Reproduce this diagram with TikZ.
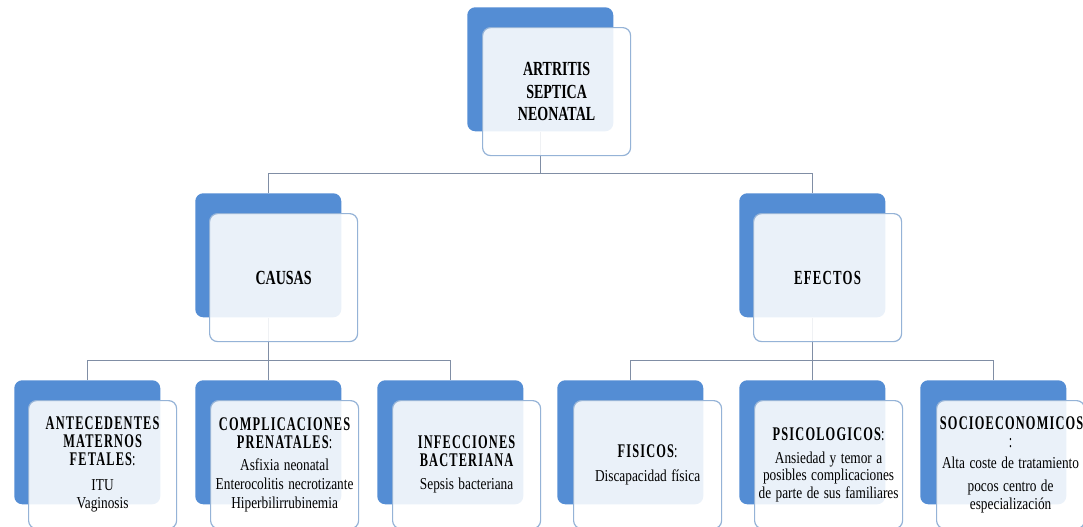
\documentclass[tikz,border=0pt]{standalone}
\usepackage{fontspec}
\setmainfont{Liberation Serif}
\newfontfamily\narrowfont[FakeStretch=0.70]{Liberation Serif}
\newfontfamily\spacedfont[FakeStretch=0.64,LetterSpace=6]{Liberation Serif}
\newfontfamily\bodyfont[FakeStretch=0.80]{Liberation Serif}
\usetikzlibrary{positioning}

\definecolor{backblue}{RGB}{84,141,212}
\definecolor{edgeblue}{RGB}{149,179,215}
\definecolor{linegrey}{RGB}{128,142,165}

\newcommand{\tophd}{\narrowfont\bfseries\fontsize{15}{16.6}\selectfont}
\newcommand{\boxhd}{\spacedfont\bfseries\fontsize{14.5}{13.6}\selectfont}
\newcommand{\boxtx}{\bodyfont\fontsize{12.5}{13.2}\selectfont}
\newcommand{\hdcolon}{{\mdseries :}}

\tikzset{
  backbox/.style={rectangle, rounded corners=6pt, fill=backblue, minimum width=109.5pt,
    minimum height=93pt, anchor=north west, inner sep=0pt},
  frontbox/.style={rectangle, rounded corners=6pt, draw=edgeblue, line width=0.9pt,
    fill=white, fill opacity=0.88, text opacity=1, minimum width=111pt, minimum height=96pt,
    text width=106pt, align=center, inner sep=1pt},
  link/.style={draw=linegrey, line width=0.8pt},
}

\begin{document}
\begin{tikzpicture}[x=0.75pt,y=0.75pt,yscale=-1,xscale=1]
\fill[white] (0,0) rectangle (1083,526);
\useasboundingbox (0,0) rectangle (1083,526);

%Shape: back boxes
\node[backbox] (top) at (467,7) {};
\node[backbox] (causas) at (195,193) {};
\node[backbox] (efectos) at (739,193) {};
\node[backbox] (ante) at (14,380) {};
\node[backbox] (compl) at (195,380) {};
\node[backbox] (infec) at (377,380) {};
\node[backbox] (fis) at (557,380) {};
\node[backbox] (psico) at (739,380) {};
\node[backbox] (socio) at (920,380) {};

%Connectors
\draw[link] (top.south) -- ++(0,42) coordinate (topbus);
\draw[link] (causas.north) |- (topbus) -| (efectos.north);
\draw[link] (causas.south) -- ++(0,43) coordinate (causasbus);
\draw[link] (ante.north) |- (causasbus) -| (infec.north);
\draw[link] (compl.north) -- (causasbus);
\draw[link] (efectos.south) -- ++(0,43) coordinate (efectosbus);
\draw[link] (fis.north) |- (efectosbus) -| (socio.north);
\draw[link] (psico.north) -- (efectosbus);

%Shape: front boxes
\node[frontbox, font=\tophd, below right=15pt and 11.25pt of top.north west] (topf)
  {ARTRITIS\\ SEPTICA\\ NEONATAL};
\node[frontbox, font=\tophd, below right=15pt and 10.5pt of causas.north west] (causasf)
  {CAUSAS};
\node[frontbox, font=\tophd\spacedfont, below right=15pt and 10.5pt of efectos.north west] (efectosf)
  {EFECTOS};
\node[frontbox, below right=15pt and 10.5pt of ante.north west] (antef)
  {{\boxhd ANTECEDENTES\\ MATERNOS\\ FETALES\hdcolon\par}\vspace{5pt}
   {\boxtx ITU\par\vspace{1pt}Vaginosis\par}};
\node[frontbox, below right=15pt and 11.25pt of compl.north west] (complf)
  {{\boxhd COMPLICACIONES\\ PRENATALES\hdcolon\par}\vspace{3pt}
   {\boxtx Asfixia neonatal\par\vspace{1pt}Enterocolitis necrotizante\par\vspace{1pt}Hiperbilirrubinemia\par}};
\node[frontbox, below right=15pt and 11.25pt of infec.north west] (infecf)
  {{\boxhd INFECCIONES\\ BACTERIANA\par}\vspace{4pt}
   {\boxtx Sepsis bacteriana\par}};
\node[frontbox, below right=15pt and 12pt of fis.north west] (fisf)
  {{\boxhd FISICOS\hdcolon\par}\vspace{5pt}
   {\boxtx Discapacidad física\par}\vspace{20pt}};
\node[frontbox, below right=15pt and 11.25pt of psico.north west] (psicof)
  {{\boxhd PSICOLOGICOS\hdcolon\par}\vspace{4pt}
   {\boxtx Ansiedad y temor a\\ posibles complicaciones\\ de parte de sus familiares\par}};
\node[frontbox, below right=15pt and 12pt of socio.north west] (sociof)
  {{\boxhd SOCIOECONOMICOS\\ \hdcolon\par}\vspace{3pt}
   {\boxtx Alta coste de tratamiento\par\vspace{4pt}pocos centro de\\ especialización\par}};
\end{tikzpicture}
\end{document}
